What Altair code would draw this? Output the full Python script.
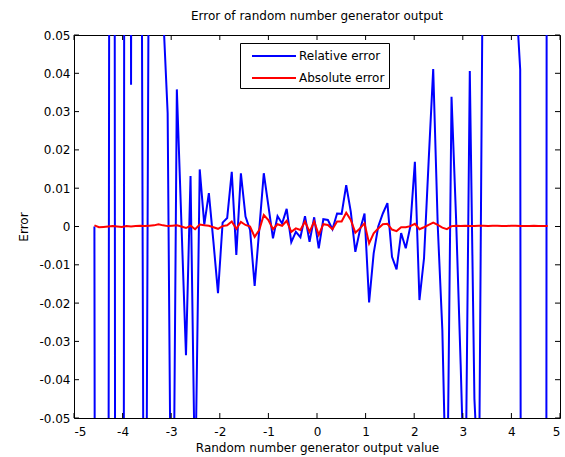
import altair as alt
import pandas as pd

FONT = "DejaVu Sans"

x_values = [
    -4.580, -4.486, -4.392, -4.297, -4.203, -4.109, -4.015, -3.921, -3.826, -3.732,
    -3.638, -3.544, -3.450, -3.355, -3.261, -3.167, -3.073, -2.979, -2.884, -2.790,
    -2.696, -2.602, -2.508, -2.413, -2.319, -2.225, -2.131, -2.037, -1.942, -1.848,
    -1.754, -1.660, -1.566, -1.471, -1.377, -1.283, -1.189, -1.095, -1.000, -0.906,
    -0.812, -0.718, -0.624, -0.529, -0.435, -0.341, -0.247, -0.153, -0.058, 0.036,
    0.130, 0.224, 0.318, 0.413, 0.507, 0.601, 0.695, 0.789, 0.884, 0.978,
    1.072, 1.166, 1.260, 1.355, 1.449, 1.543, 1.637, 1.731, 1.826, 1.920,
    2.014, 2.108, 2.202, 2.297, 2.391, 2.485, 2.579, 2.673, 2.768, 2.862,
    2.956, 3.050, 3.144, 3.239, 3.333, 3.427, 3.521, 3.615, 3.710, 3.804,
    3.898, 3.992, 4.086, 4.181, 4.275, 4.369, 4.463, 4.557, 4.652, 4.746,
]

relative_error = [
    0.0, -0.9, -0.6, -0.15, 0.8, -0.9, -0.7, 0.8, 0.037, 0.9,
    0.2, -0.18, 0.11, 0.5, 0.3, 0.056, 0.0296, -0.122, 0.0358, 0.001,
    -0.0336, 0.0132, -0.07, 0.0149, 0.0005, 0.0087, -0.004, -0.0174, 0.001, 0.0022,
    0.0143, -0.0074, 0.0139, 0.0026, -0.0009, -0.0155, -0.0009, 0.0139, 0.0054, -0.0031,
    0.0027, 0.0008, 0.0046, -0.0041, -0.0014, -0.0028, 0.0027, -0.0040, 0.0024, -0.0057,
    0.0019, 0.0017, -0.0007, 0.0034, 0.0033, 0.0108, 0.0039, -0.0066, -0.0009, 0.0034,
    -0.0198, -0.0070, 0.0, 0.0034, 0.0061, -0.0079, -0.0112, -0.0017, -0.0057, 0.0,
    0.0169, -0.0192, -0.0083, 0.017, 0.0411, 0.0, -0.027, -0.08, 0.0339, 0.002,
    -0.036, -0.0786, 0.0406, -0.045, -0.07, 0.1, 0.6, 0.9, 0.7, 0.8,
    0.5, 0.9, 0.062, 0.041, -0.9, -0.7, -0.8, -0.6, -1.5, 0.5,
]

absolute_error = [
    0.0003, -0.0002, -0.0001, 0.0, 0.0001, 0.0, -0.0001, 0.0001, 0.0, 0.0001,
    0.0002, 0.0001, 0.0002, 0.0003, 0.0006, 0.0003, 0.0001, 0.0002, 0.0003, 0.0,
    -0.0004, 0.0002, -0.0007, 0.0005, 0.0003, 0.0002, -0.0002, -0.0006, 0.0001, 0.0003,
    0.0013, -0.0006, 0.0012, 0.0004, 0.0, -0.0027, -0.0009, 0.003, 0.0017, -0.0007,
    0.0006, 0.0002, 0.0015, -0.0014, -0.0005, -0.0009, 0.0013, -0.0014, 0.0013, -0.0022,
    0.0006, 0.0004, -0.0007, 0.0013, 0.0013, 0.0036, 0.0017, -0.0016, -0.0005, 0.0008,
    -0.0044, -0.0018, -0.0005, 0.0006, 0.0007, -0.0008, -0.0012, -0.0002, -0.0002, 0.0001,
    0.0007, -0.0007, -0.0002, 0.0004, 0.001, 0.0004, -0.0003, -0.0007, 0.0001, 0.0002,
    0.0001, 0.0002, 0.0001, 0.0001, 0.0002, 0.0002, 0.0001, 0.0002, 0.0002, 0.0001,
    0.0001, 0.0002, 0.0002, 0.0001, 0.0001, 0.0001, 0.0002, 0.0001, 0.0001, 0.0001,
]

series_names = ["Relative error", "Absolute error"]
series_colors = ["#0000ff", "#ff0000"]
x_ticks = [-5, -4, -3, -2, -1, 0, 1, 2, 3, 4, 5]
y_ticks = [-0.05, -0.04, -0.03, -0.02, -0.01, 0, 0.01, 0.02, 0.03, 0.04, 0.05]

W, H = 486, 383

rel_df = pd.DataFrame({"x": x_values, "error": relative_error, "series": series_names[0]})
abs_df = pd.DataFrame({"x": x_values, "error": absolute_error, "series": series_names[1]})

x_scale = alt.Scale(domain=[-5, 5], nice=False, zero=False)
y_scale = alt.Scale(domain=[-0.05, 0.05], nice=False, zero=False)

common_axis = dict(ticks=False, domain=False, grid=False, labelOverlap=False,
                   labelFontSize=12, labelFont=FONT, labelColor="black",
                   titleFontSize=12, titleFont=FONT, titleFontWeight="normal",
                   titleColor="black")

x_axis = alt.Axis(values=x_ticks,
                  labelExpr="replace(format(datum.value, 'd'), '\u2212', '-')",
                  labelPadding=8, titlePadding=5, **common_axis)
y_axis = alt.Axis(values=y_ticks,
                  labelExpr="datum.value == 0 ? '0' : replace(format(datum.value, '.2f'), '\u2212', '-')",
                  labelSeparation=0, labelPadding=4, titlePadding=8, **common_axis)

x_enc = alt.X("x:Q", scale=x_scale, title="Random number generator output value", axis=x_axis)
y_enc = alt.Y("error:Q", scale=y_scale, title="Error", axis=y_axis)

color_enc = alt.Color("series:N",
                      scale=alt.Scale(domain=series_names, range=series_colors),
                      legend=alt.Legend(orient="none", legendX=166, legendY=8, title=None,
                                        strokeColor="black", fillColor="white", padding=4,
                                        symbolType="M-2.75,0H2.75", symbolStrokeWidth=2,
                                        symbolSize=256, symbolOffset=21,
                                        labelFontSize=12, labelFont=FONT,
                                        labelColor="black", rowPadding=7, labelOffset=16))

rel_line = alt.Chart(rel_df).mark_line(strokeWidth=2, clip=True).encode(
    x=x_enc, y=y_enc, color=color_enc, order="x:Q")
abs_line = alt.Chart(abs_df).mark_line(strokeWidth=2, clip=True).encode(
    x=x_enc, y=y_enc, color=color_enc, order="x:Q")

xt_df = pd.DataFrame({"x": x_ticks})
yt_df = pd.DataFrame({"error": y_ticks})

bottom_ticks = alt.Chart(xt_df).mark_rule(color="black", strokeWidth=1).encode(
    x=x_enc, y=alt.value(H), y2=alt.value(H - 5))
top_ticks = alt.Chart(xt_df).mark_rule(color="black", strokeWidth=1).encode(
    x=x_enc, y=alt.value(0), y2=alt.value(5))
left_ticks = alt.Chart(yt_df).mark_rule(color="black", strokeWidth=1).encode(
    y=y_enc, x=alt.value(0), x2=alt.value(5))
right_ticks = alt.Chart(yt_df).mark_rule(color="black", strokeWidth=1).encode(
    y=y_enc, x=alt.value(W), x2=alt.value(W - 5))

chart = alt.layer(rel_line, abs_line, bottom_ticks, top_ticks, left_ticks, right_ticks).properties(
    width=W, height=H,
    background="white",
    title=alt.TitleParams("Error of random number generator output", fontSize=12,
                          font=FONT, fontWeight="normal", color="black", offset=6,
                          anchor="middle"),
    padding={"left": 74, "top": 35, "right": 5, "bottom": 39},
    autosize=alt.AutoSizeParams(type="none"),
).configure_view(stroke="black", strokeWidth=1)

chart.save("out.html", embed_options={"renderer": "svg", "actions": False})
